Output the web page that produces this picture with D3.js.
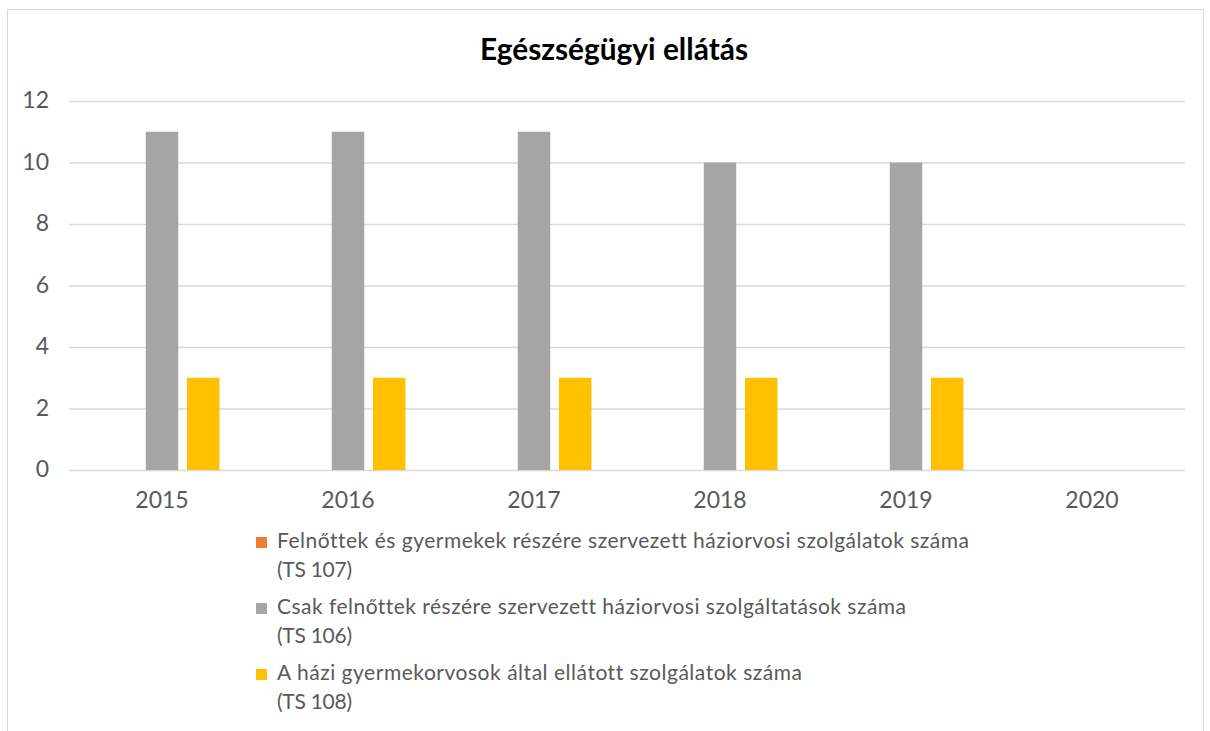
<!DOCTYPE html>
<html>
<head>
<meta charset="utf-8">
<script src="https://cdn.jsdelivr.net/npm/d3@7"></script>
<style>
  body { margin: 0; background: #fff; }
  svg { display: block; }
  text { font-variant-ligatures: none; }
</style>
</head>
<body>
<div id="chart"></div>
<script>
// data
const years = ["2015", "2016", "2017", "2018", "2019", "2020"];
const seriesNames = [
    ["Felnőttek és gyermekek részére szervezett háziorvosi szolgálatok száma", "(TS 107)"],
    ["Csak felnőttek részére szervezett háziorvosi szolgáltatások száma", "(TS 106)"],
    ["A házi gyermekorvosok által ellátott szolgálatok száma", "(TS 108)"]
];
const ts107 = [0, 0, 0, 0, 0, 0];
const ts106 = [11, 11, 11, 10, 10, 0];
const ts108 = [3, 3, 3, 3, 3, 0];
const yTicks = [0, 2, 4, 6, 8, 10, 12];
const colors = ["#ed7d31", "#a5a5a5", "#ffc000"];

const width = 1210;
const height = 731;
const marginLeft = 69;
const marginRight = 25;
const marginTop = 101;
const plotBottom = 470;
const font = "Lato, 'Open Sans', sans-serif";

const svg = d3.select("#chart")
    .append("svg")
    .attr("width", width)
    .attr("height", height);

// frame
svg.append("rect")
    .attr("x", 7.5).attr("y", 9.5)
    .attr("width", 1196).attr("height", 740)
    .attr("fill", "none")
    .attr("stroke", "#d9d9d9");

// title
svg.append("text")
    .attr("x", 480)
    .attr("y", 60)
    .attr("font-family", font)
    .attr("font-size", "30px")
    .attr("font-weight", "bold")
    .attr("fill", "#000")
    .attr("textLength", 268)
    .attr("lengthAdjust", "spacingAndGlyphs")
    .text("Egészségügyi ellátás");

// scales
const x = d3.scaleBand()
    .domain(years)
    .range([marginLeft, width - marginRight]);

const y = d3.scaleLinear()
    .domain([0, 12])
    .range([plotBottom, marginTop]);

// bar width from excel gap 219%, overlap -27%
const barW = x.bandwidth() / 5.73;
const step = barW * 1.27;

// gridlines
svg.append("g")
    .attr("transform", `translate(${marginLeft}, 0)`)
    .call(d3.axisLeft(y).tickValues(yTicks).tickSize(-(width - marginRight - marginLeft)).tickFormat(""))
    .call(g => g.select(".domain").remove())
    .call(g => g.selectAll("line").attr("stroke", "#d9d9d9").attr("stroke-width", 1.3));

// y labels
svg.append("g")
    .selectAll("text")
    .data(yTicks)
    .join("text")
    .attr("x", 49)
    .attr("y", d => y(d) + 7)
    .attr("text-anchor", "end")
    .attr("font-family", font)
    .attr("font-size", "23px")
    .attr("fill", "#595959")
    .text(d => d);

// bars
const allSeries = [ts107, ts106, ts108];
allSeries.forEach((vals, si) => {
    svg.append("g")
        .selectAll("rect")
        .data(vals.map((v, i) => ({ year: years[i], value: v })))
        .join("rect")
        .attr("x", d => x(d.year) + x.bandwidth() / 2 - (barW * 1.5 + barW * 0.27) + si * step)
        .attr("y", d => y(d.value))
        .attr("width", barW)
        .attr("height", d => y(0) - y(d.value))
        .attr("fill", colors[si]);
});

// x labels
svg.append("g")
    .selectAll("text")
    .data(years)
    .join("text")
    .attr("x", d => x(d) + x.bandwidth() / 2)
    .attr("y", 508)
    .attr("text-anchor", "middle")
    .attr("font-family", font)
    .attr("font-size", "23px")
    .attr("fill", "#595959")
    .text(d => d);

// legend
const legendY = [548, 614, 680];
const legendLen = [692, 629, 525];
const legend = svg.append("g");
seriesNames.forEach((name, i) => {
    legend.append("rect")
        .attr("x", 256)
        .attr("y", legendY[i] - 11)
        .attr("width", 11)
        .attr("height", 11)
        .attr("fill", colors[i]);
    legend.append("text")
        .attr("x", 277)
        .attr("y", legendY[i])
        .attr("font-family", font)
        .attr("font-size", "21px")
        .attr("fill", "#595959")
        .attr("textLength", legendLen[i])
        .attr("lengthAdjust", "spacing")
        .text(name[0]);
    legend.append("text")
        .attr("x", 277)
        .attr("y", legendY[i] + 29)
        .attr("font-family", font)
        .attr("font-size", "21px")
        .attr("fill", "#595959")
        .attr("textLength", 75)
        .attr("lengthAdjust", "spacing")
        .text(name[1]);
});
</script>
</body>
</html>
